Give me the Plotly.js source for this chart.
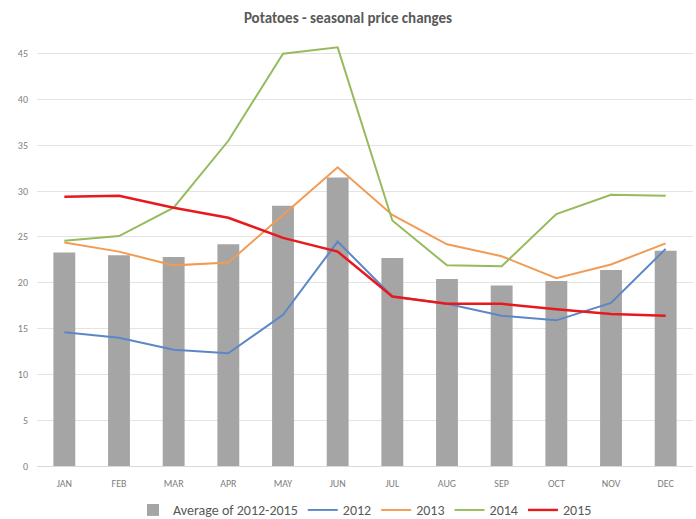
<!DOCTYPE html>
<html>
<head>
<meta charset="utf-8">
<script src="https://cdn.plot.ly/plotly-3.0.1.min.js"></script>
<style>html,body{margin:0;padding:0;background:#fff;}#chart{width:696px;height:519px;}</style>
</head>
<body>
<div id="chart"></div>
<script>
const months = ["JAN","FEB","MAR","APR","MAY","JUN","JUL","AUG","SEP","OCT","NOV","DEC"];
const avg2012_2015 = [23.3, 23.0, 22.8, 24.2, 28.4, 31.5, 22.7, 20.4, 19.7, 20.2, 21.4, 23.5];
const y2012 = [14.6, 14.0, 12.7, 12.3, 16.5, 24.5, 18.5, 17.7, 16.4, 15.9, 17.8, 23.7];
const y2013 = [24.4, 23.4, 21.9, 22.2, 27.4, 32.6, 27.4, 24.2, 22.9, 20.5, 22.0, 24.3];
const y2014 = [24.6, 25.1, 28.2, 35.5, 45.0, 45.7, 26.8, 21.9, 21.8, 27.5, 29.6, 29.5];
const y2015 = [29.4, 29.5, 28.2, 27.1, 24.9, 23.4, 18.5, 17.7, 17.7, 17.1, 16.6, 16.4];

const font = "Calibri, 'Liberation Sans Narrow', 'Open Sans', sans-serif";
const traces = [
  {type:"bar", name:"Average of 2012-2015", x:months, y:avg2012_2015, marker:{color:"#a5a5a5"}},
  {type:"scatter", mode:"lines", name:"2012", x:months, y:y2012, line:{color:"#5b87c7", width:2}},
  {type:"scatter", mode:"lines", name:"2013", x:months, y:y2013, line:{color:"#f29b55", width:2}},
  {type:"scatter", mode:"lines", name:"2014", x:months, y:y2014, line:{color:"#96bb5c", width:2}},
  {type:"scatter", mode:"lines", name:"2015", x:months, y:y2015, line:{color:"#e8191c", width:2.5}}
];
const layout = {
  width:696, height:519,
  margin:{l:37, r:3, t:40, b:53, autoexpand:false},
  paper_bgcolor:"#fff", plot_bgcolor:"#fff",
  title:{text:"<b>Potatoes - seasonal price changes</b>", x:0.5, xanchor:"center", y:0.965, yanchor:"middle",
         font:{family:font, size:15, color:"#595959"}},
  bargap:0.6,
  xaxis:{type:"category", tickfont:{family:font, size:10, color:"#808080"}, showgrid:false,
         showline:true, linecolor:"#d9d9d9", ticks:"", ticklabelstandoff:8, fixedrange:true},
  yaxis:{range:[0,46.5], tickvals:[0,5,10,15,20,25,30,35,40,45], tickfont:{family:font, size:10, color:"#808080"},
         gridcolor:"#e3e3e3", zeroline:false, showline:false, ticks:"", ticklabelstandoff:8},
  legend:{orientation:"h", x:0.5, xanchor:"center", y:-0.104, yanchor:"middle",
          font:{family:font, size:14, color:"#595959"}, traceorder:"normal", itemwidth:30, tracegroupgap:0},
  showlegend:true
};
Plotly.newPlot("chart", traces, layout, {displayModeBar:false, staticPlot:true});
</script>
</body>
</html>
